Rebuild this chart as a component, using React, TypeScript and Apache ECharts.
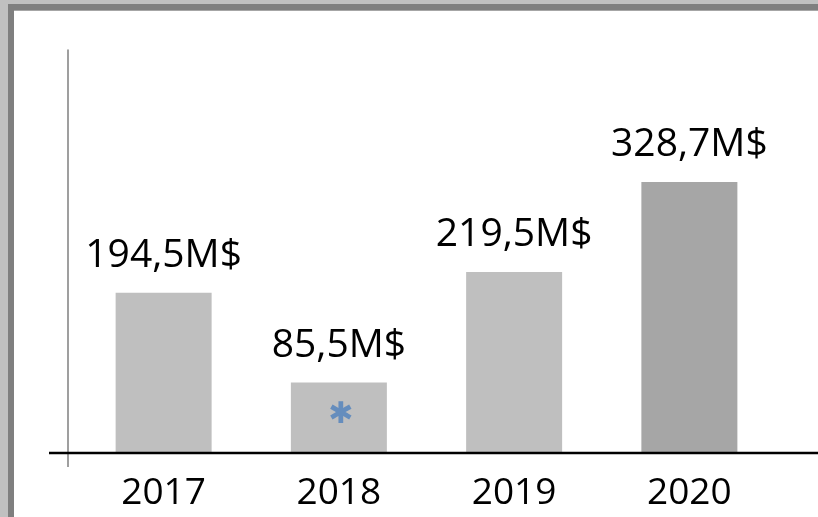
import React, { useEffect, useRef } from "react";
import * as echarts from "echarts";

const categories = ["2017", "2018", "2019", "2020"];
const values = [194.5, 85.5, 219.5, 328.7];
const valueLabels = ["194,5M$", "85,5M$", "219,5M$", "328,7M$"];
const barColors = ["#bfbfbf", "#bfbfbf", "#bfbfbf", "#a6a6a6"];
const noteCategory = "2018";
const noteValue = 50;
const noteText = "✱";

export default function App() {
  const ref = useRef<HTMLDivElement>(null);
  useEffect(() => {
    if (!ref.current) return;
    const chart = echarts.init(ref.current, undefined, { renderer: "svg" });
    chart.setOption({
      animation: false,
      backgroundColor: "transparent",
      graphic: [
        { type: "rect", z: -10, silent: true, shape: { x: 0, y: 0, width: 818, height: 517 }, style: { fill: "#c0c0c0" } },
        { type: "rect", z: -9, silent: true, shape: { x: 8, y: 4, width: 810, height: 513 }, style: { fill: "#7f7f7f" } },
        { type: "rect", z: -8, silent: true, shape: { x: 14, y: 10, width: 804, height: 507 }, style: { fill: "#a6a6a6" } },
        { type: "rect", z: -7, silent: true, shape: { x: 14, y: 11, width: 804, height: 506 }, style: { fill: "#ffffff" } },
        { type: "line", z: 5, silent: true, shape: { x1: 68, y1: 453, x2: 68, y2: 467 }, style: { stroke: "#7f7f7f", lineWidth: 1.5 } },
        { type: "line", z: 6, silent: true, shape: { x1: 49, y1: 453, x2: 818, y2: 453 }, style: { stroke: "#000000", lineWidth: 2.5 } },
      ],
      grid: { left: 76, right: 41, top: 50, bottom: 64 },
      xAxis: {
        type: "category",
        data: categories,
        axisLine: { show: false },
        axisTick: { show: false },
        axisLabel: {
          color: "#000",
          fontFamily: "Open Sans",
          fontSize: 37,
          margin: 18,
        },
      },
      yAxis: {
        type: "value",
        min: 0,
        max: 489,
        offset: 8,
        splitLine: { show: false },
        axisLabel: { show: false },
        axisTick: { show: false },
        axisLine: { show: true, lineStyle: { color: "#7f7f7f", width: 1.5 } },
      },
      series: [
        {
          type: "bar",
          barWidth: 96,
          data: values.map((v, i) => ({ value: v, itemStyle: { color: barColors[i] } })),
          label: {
            show: true,
            position: "top",
            distance: 22,
            color: "#000",
            fontFamily: "Open Sans",
            fontSize: 39,
            formatter: (p: any) => valueLabels[p.dataIndex],
          },
        },
        {
          type: "scatter",
          symbolSize: 0,
          z: 10,
          data: [[noteCategory, noteValue]],
          label: {
            show: true,
            position: "inside",
            formatter: noteText,
            color: "#4f81bd",
            fontFamily: "DejaVu Sans",
            fontSize: 30,
            offset: [2, 1],
          },
        },
      ],
    });
    return () => chart.dispose();
  }, []);
  return (
    <div
      ref={ref}
      style={{ position: "fixed", left: 0, top: 0, width: 818, height: 517 }}
    />
  );
}
